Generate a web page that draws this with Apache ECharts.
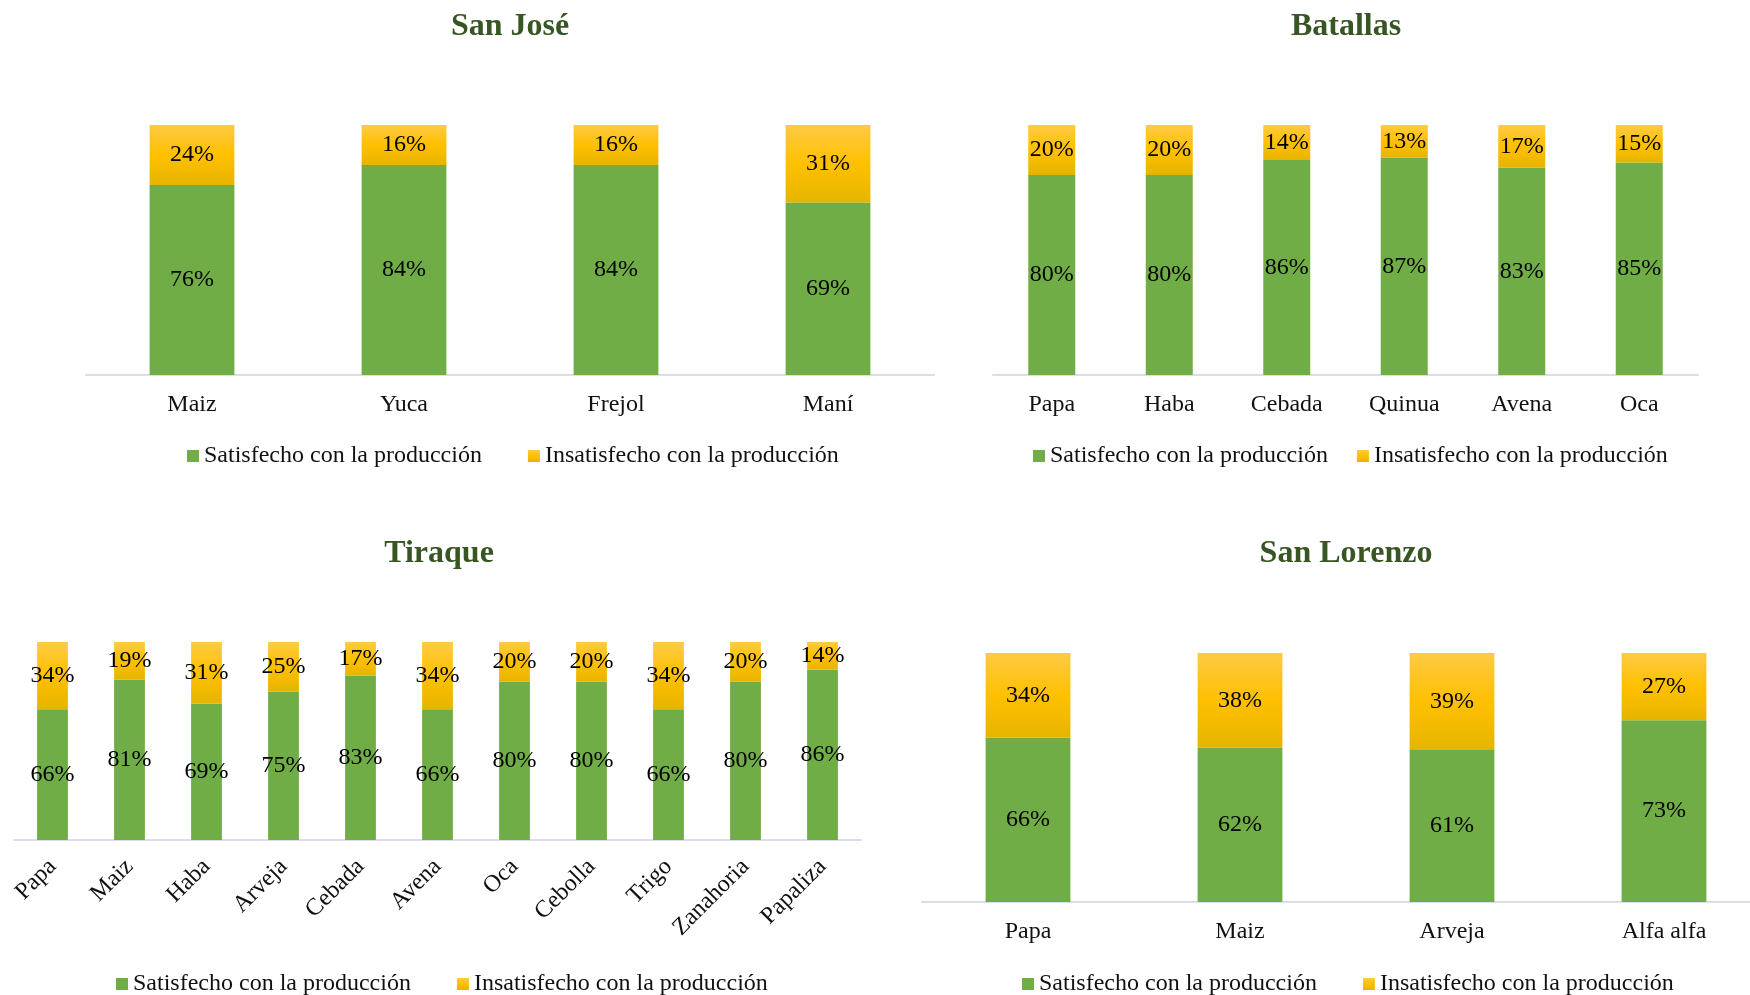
<!DOCTYPE html>
<html>
<head>
<meta charset="utf-8">
<script src="https://cdn.jsdelivr.net/npm/echarts@6/dist/echarts.min.js"></script>
<style>
  html, body { margin: 0; padding: 0; background: #fff; }
  #chart { width: 1750px; height: 995px; }
</style>
</head>
<body>
<div id="chart"></div>
<script>
// data
const sanJoseCats = ['Maiz', 'Yuca', 'Frejol', 'Maní'];
const sanJoseSat = [76, 84, 84, 69];
const sanJoseIns = [24, 16, 16, 31];

const batallasCats = ['Papa', 'Haba', 'Cebada', 'Quinua', 'Avena', 'Oca'];
const batallasSat = [80, 80, 86, 87, 83, 85];
const batallasIns = [20, 20, 14, 13, 17, 15];

const tiraqueCats = ['Papa', 'Maiz', 'Haba', 'Arveja', 'Cebada', 'Avena', 'Oca', 'Cebolla', 'Trigo', 'Zanahoria', 'Papaliza'];
const tiraqueSat = [66, 81, 69, 75, 83, 66, 80, 80, 66, 80, 86];
const tiraqueIns = [34, 19, 31, 25, 17, 34, 20, 20, 34, 20, 14];

const sanLorenzoCats = ['Papa', 'Maiz', 'Arveja', 'Alfa alfa'];
const sanLorenzoSat = [66, 62, 61, 73];
const sanLorenzoIns = [34, 38, 39, 27];

const SAT = 'Satisfecho con la producción';
const INS = 'Insatisfecho con la producción';

const FONT = '"Liberation Serif", "Times New Roman", serif';
const green = '#70AD47';
const yellow = new echarts.graphic.LinearGradient(0, 0, 0, 1, [
  { offset: 0, color: '#FFCA45' },
  { offset: 0.5, color: '#FFC000' },
  { offset: 1, color: '#E6B400' }
]);

const panels = [
  { title: 'San José', cats: sanJoseCats, sat: sanJoseSat, ins: sanJoseIns,
    grid: { left: 86, top: 125, width: 848, height: 250 }, titleX: 510, titleY: 11,
    legendX: 187, legendY: 444, gap: 46, rotate: 0 },
  { title: 'Batallas', cats: batallasCats, sat: batallasSat, ins: batallasIns,
    grid: { left: 993, top: 125, width: 705, height: 250 }, titleX: 1346, titleY: 11,
    legendX: 1033, legendY: 444, gap: 29, rotate: 0 },
  { title: 'Tiraque', cats: tiraqueCats, sat: tiraqueSat, ins: tiraqueIns,
    grid: { left: 14, top: 642, width: 847, height: 198 }, titleX: 439, titleY: 538,
    legendX: 116, legendY: 972, gap: 46, rotate: 45 },
  { title: 'San Lorenzo', cats: sanLorenzoCats, sat: sanLorenzoSat, ins: sanLorenzoIns,
    grid: { left: 922, top: 653, width: 848, height: 249 }, titleX: 1346, titleY: 538,
    legendX: 1022, legendY: 972, gap: 46, rotate: 0 }
];

const option = {
  backgroundColor: '#fff',
  animation: false,
  title: [], legend: [], grid: [], xAxis: [], yAxis: [], series: []
};

panels.forEach(function (p, i) {
  option.title.push({
    text: p.title, left: p.titleX, top: p.titleY, textAlign: 'center', padding: 0,
    textStyle: { fontFamily: FONT, fontSize: 32, fontWeight: 'bold', color: '#375623' }
  });
  option.legend.push({
    data: [SAT, INS], left: p.legendX, top: p.legendY, padding: 0,
    icon: 'rect', itemWidth: 12, itemHeight: 12, itemGap: p.gap,
    textStyle: { fontFamily: FONT, fontSize: 24, color: '#111' }
  });
  option.grid.push(Object.assign({ outerBoundsMode: 'none', containLabel: false }, p.grid));
  option.xAxis.push({
    type: 'category', gridIndex: i, data: p.cats,
    axisLine: { lineStyle: { color: '#D9DEE7', width: 2 } },
    axisTick: { show: false },
    axisLabel: { interval: 0, rotate: p.rotate, margin: p.rotate ? 23 : 18,
      fontFamily: FONT, fontSize: 24, color: '#111' }
  });
  option.yAxis.push({
    type: 'value', gridIndex: i, min: 0, max: 100, show: false,
    splitLine: { show: false }
  });
  const label = { show: true, position: 'inside', formatter: '{c}%',
    fontFamily: FONT, fontSize: 24, color: '#000' };
  option.series.push({
    name: SAT, type: 'bar', stack: 's' + i, xAxisIndex: i, yAxisIndex: i,
    data: p.sat, barWidth: '40%', itemStyle: { color: green }, label: label
  });
  option.series.push({
    name: INS, type: 'bar', stack: 's' + i, xAxisIndex: i, yAxisIndex: i,
    data: p.ins, barWidth: '40%', itemStyle: { color: yellow }, label: label
  });
});

const chart = echarts.init(document.getElementById('chart'));
chart.setOption(option);
</script>
</body>
</html>
